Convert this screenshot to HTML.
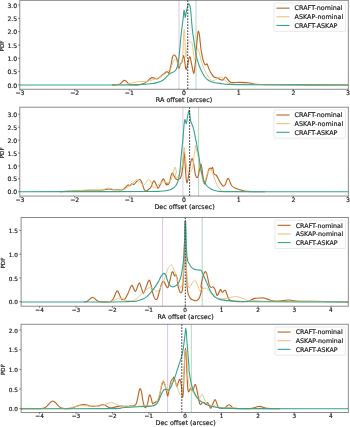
<!DOCTYPE html>
<html><head><meta charset="utf-8"><title>PDF offsets</title>
<style>html,body{margin:0;padding:0;background:#fff}svg{display:block}text{stroke:#1a1a1a;stroke-width:.18px}</style></head>
<body>
<svg width="350" height="427" viewBox="0 0 350 427" font-family="'DejaVu Sans','Liberation Sans',sans-serif" fill="#1a1a1a">
<rect width="350" height="427" fill="#fff"/>
<g>
<clipPath id="c0"><rect x="19.80" y="0.35" width="328.50" height="88.90"/></clipPath>
<g clip-path="url(#c0)" fill="none" stroke-linejoin="round" stroke-linecap="butt">
<line x1="179.00" y1="0.35" x2="179.00" y2="89.25" stroke="#d9c3e0" stroke-width="0.90"/>
<line x1="196.00" y1="0.35" x2="196.00" y2="89.25" stroke="#a9d6b6" stroke-width="0.90"/>
<path d="M112.00,84.90 C112.83,84.88 116.03,84.83 117.00,84.80 C117.97,84.77 117.53,84.76 117.80,84.73 C118.07,84.69 118.33,84.65 118.60,84.57 C118.87,84.50 119.13,84.41 119.40,84.29 C119.67,84.16 119.93,84.01 120.20,83.82 C120.47,83.64 120.73,83.41 121.00,83.16 C121.27,82.91 121.53,82.62 121.80,82.34 C122.07,82.06 122.33,81.74 122.60,81.48 C122.87,81.22 123.13,80.95 123.40,80.77 C123.67,80.58 123.93,80.44 124.20,80.38 C124.47,80.33 124.73,80.35 125.00,80.44 C125.27,80.53 125.53,80.71 125.80,80.92 C126.07,81.13 126.33,81.42 126.60,81.69 C126.87,81.96 127.13,82.28 127.40,82.55 C127.67,82.83 127.93,83.11 128.20,83.34 C128.47,83.58 128.73,83.79 129.00,83.96 C129.27,84.13 129.53,84.26 129.80,84.37 C130.07,84.48 130.33,84.56 130.60,84.62 C130.87,84.68 130.67,84.71 131.40,84.75 C132.13,84.79 133.57,84.88 135.00,84.85 C136.43,84.82 138.50,84.82 140.00,84.60 C141.50,84.38 142.67,84.17 144.00,83.50 C145.33,82.83 146.67,81.58 148.00,80.60 C149.33,79.62 150.50,77.87 152.00,77.60 C153.50,77.33 155.67,79.10 157.00,79.00 C158.33,78.90 159.10,77.67 160.00,77.00 C160.90,76.33 161.23,75.90 162.40,75.00 C163.57,74.10 165.90,71.93 167.00,71.60 C168.10,71.27 168.33,74.10 169.00,73.00 C169.67,71.90 170.40,67.70 171.00,65.00 C171.60,62.30 172.05,58.47 172.60,56.80 C173.15,55.13 173.68,54.88 174.30,55.00 C174.92,55.12 175.70,56.10 176.30,57.50 C176.90,58.90 177.45,61.53 177.90,63.40 C178.35,65.27 178.55,68.67 179.00,68.70 C179.45,68.73 180.13,64.62 180.60,63.60 C181.07,62.58 181.30,63.95 181.80,62.60 C182.30,61.25 183.08,55.43 183.60,55.50 C184.12,55.57 184.49,60.68 184.90,63.00 C185.31,65.32 185.60,69.07 186.05,69.40 C186.50,69.73 186.99,67.15 187.60,65.00 C188.21,62.85 189.03,56.67 189.70,56.50 C190.37,56.33 190.93,61.20 191.60,64.00 C192.27,66.80 193.13,72.97 193.70,73.30 C194.27,73.63 194.65,68.55 195.00,66.00 C195.35,63.45 195.52,61.43 195.80,58.00 C196.08,54.57 196.40,49.23 196.70,45.40 C197.00,41.57 197.30,37.37 197.60,35.00 C197.90,32.63 198.17,31.02 198.50,31.20 C198.83,31.38 199.25,33.60 199.60,36.10 C199.95,38.60 200.27,43.35 200.60,46.20 C200.93,49.05 201.18,50.87 201.60,53.20 C202.02,55.53 202.53,58.27 203.10,60.20 C203.67,62.13 204.35,64.17 205.00,64.80 C205.65,65.43 206.33,63.30 207.00,64.00 C207.67,64.70 208.33,67.50 209.00,69.00 C209.67,70.50 210.17,71.67 211.00,73.00 C211.83,74.33 212.83,76.17 214.00,77.00 C215.17,77.83 217.00,77.60 218.00,78.00 C219.00,78.40 219.17,79.07 220.00,79.40 C220.83,79.73 222.07,80.40 223.00,80.00 C223.93,79.60 224.60,76.83 225.60,77.00 C226.60,77.17 227.93,80.07 229.00,81.00 C230.07,81.93 230.17,82.37 232.00,82.60 C233.83,82.83 237.00,82.33 240.00,82.40 C243.00,82.47 247.33,82.70 250.00,83.00 C252.67,83.30 251.00,83.90 256.00,84.20 C261.00,84.50 264.67,84.67 280.00,84.80 C295.33,84.93 336.67,84.97 348.00,85.00" stroke="#ba6421" stroke-width="1.12"/>
<path d="M116.00,85.00 C117.00,84.97 120.33,84.92 122.00,84.80 C123.67,84.68 124.67,84.55 126.00,84.30 C127.33,84.05 128.50,83.65 130.00,83.30 C131.50,82.95 133.33,82.52 135.00,82.20 C136.67,81.88 138.17,81.50 140.00,81.40 C141.83,81.30 144.00,81.83 146.00,81.60 C148.00,81.37 150.00,80.60 152.00,80.00 C154.00,79.40 156.00,78.92 158.00,78.00 C160.00,77.08 162.45,75.57 164.00,74.50 C165.55,73.43 166.17,72.60 167.30,71.60 C168.43,70.60 169.82,70.18 170.80,68.50 C171.78,66.82 172.45,63.00 173.20,61.50 C173.95,60.00 174.68,59.50 175.30,59.50 C175.92,59.50 176.28,60.33 176.90,61.50 C177.52,62.67 178.28,66.18 179.00,66.50 C179.72,66.82 180.63,64.90 181.20,63.40 C181.77,61.90 182.07,60.07 182.40,57.50 C182.73,54.93 183.02,51.25 183.20,48.00 C183.38,44.75 183.39,40.75 183.50,38.00 C183.61,35.25 183.72,32.93 183.85,31.50 C183.97,30.07 184.12,29.40 184.25,29.40 C184.38,29.40 184.53,29.73 184.65,31.50 C184.77,33.27 184.85,36.58 184.95,40.00 C185.05,43.42 185.07,49.08 185.25,52.00 C185.43,54.92 185.72,57.83 186.00,57.50 C186.28,57.17 186.63,52.33 186.90,50.00 C187.17,47.67 187.32,44.87 187.60,43.50 C187.88,42.13 188.12,42.08 188.60,41.80 C189.08,41.52 189.97,41.67 190.50,41.80 C191.03,41.93 191.45,41.90 191.80,42.60 C192.15,43.30 192.32,44.10 192.60,46.00 C192.88,47.90 193.15,51.70 193.50,54.00 C193.85,56.30 194.28,59.72 194.70,59.80 C195.12,59.88 195.57,56.33 196.00,54.50 C196.43,52.67 196.83,49.30 197.30,48.80 C197.77,48.30 198.33,50.27 198.80,51.50 C199.27,52.73 199.63,54.37 200.10,56.20 C200.57,58.03 200.82,60.13 201.60,62.50 C202.38,64.87 203.73,68.15 204.80,70.40 C205.87,72.65 206.97,74.37 208.00,76.00 C209.03,77.63 210.00,79.43 211.00,80.20 C212.00,80.97 213.00,80.87 214.00,80.60 C215.00,80.33 215.95,79.22 217.00,78.60 C218.05,77.98 219.30,76.97 220.30,76.90 C221.30,76.83 222.05,77.45 223.00,78.20 C223.95,78.95 224.83,80.50 226.00,81.40 C227.17,82.30 228.67,83.10 230.00,83.60 C231.33,84.10 225.67,84.20 234.00,84.40 C242.33,84.60 261.00,84.70 280.00,84.80 C299.00,84.90 336.67,84.97 348.00,85.00" stroke="#e5c47f" stroke-width="0.92"/>
<path d="M20.00,85.00 C36.67,85.00 100.00,85.08 120.00,85.00 C140.00,84.92 135.00,84.70 140.00,84.50 C145.00,84.30 147.17,84.12 150.00,83.80 C152.83,83.48 155.00,83.10 157.00,82.60 C159.00,82.10 160.67,81.48 162.00,80.80 C163.33,80.12 164.08,79.33 165.00,78.50 C165.92,77.67 166.67,76.62 167.50,75.80 C168.33,74.98 169.08,74.20 170.00,73.60 C170.92,73.00 172.08,72.72 173.00,72.20 C173.92,71.68 174.80,71.37 175.50,70.50 C176.20,69.63 176.73,68.42 177.20,67.00 C177.67,65.58 177.97,64.00 178.30,62.00 C178.63,60.00 178.92,57.58 179.20,55.00 C179.48,52.42 179.73,49.33 180.00,46.50 C180.27,43.67 180.58,40.25 180.80,38.00 C181.02,35.75 181.10,34.75 181.30,33.00 C181.50,31.25 181.75,29.42 182.00,27.50 C182.25,25.58 182.55,23.50 182.80,21.50 C183.05,19.50 183.31,17.33 183.50,15.50 C183.69,13.67 183.78,11.08 183.95,10.50 C184.12,9.92 184.29,10.83 184.50,12.00 C184.71,13.17 184.92,17.40 185.20,17.50 C185.48,17.60 185.88,14.08 186.20,12.60 C186.52,11.12 186.75,10.03 187.10,8.60 C187.45,7.17 187.87,4.58 188.30,4.00 C188.73,3.42 189.32,4.18 189.70,5.10 C190.08,6.02 190.30,7.02 190.60,9.50 C190.90,11.98 191.18,16.42 191.50,20.00 C191.82,23.58 192.10,27.55 192.50,31.00 C192.90,34.45 193.43,37.52 193.90,40.70 C194.37,43.88 194.83,47.28 195.30,50.10 C195.77,52.92 196.20,55.45 196.70,57.60 C197.20,59.75 197.73,61.27 198.30,63.00 C198.87,64.73 199.42,66.38 200.10,68.00 C200.78,69.62 201.58,71.20 202.40,72.70 C203.22,74.20 204.07,75.78 205.00,77.00 C205.93,78.22 206.83,79.17 208.00,80.00 C209.17,80.83 210.00,81.43 212.00,82.00 C214.00,82.57 217.00,83.00 220.00,83.40 C223.00,83.80 223.33,84.17 230.00,84.40 C236.67,84.63 240.33,84.70 260.00,84.80 C279.67,84.90 333.33,84.97 348.00,85.00" stroke="#35a38f" stroke-width="1.10"/>
<line x1="187.75" y1="0.35" x2="187.75" y2="89.25" stroke="#33363f" stroke-width="1.0" stroke-dasharray="1.65,1.35"/>
</g>
<rect x="19.80" y="0.35" width="328.50" height="88.90" fill="none" stroke="#000" stroke-opacity="0.5" stroke-width="0.9"/>
<line x1="19.99" y1="89.25" x2="19.99" y2="90.95" stroke="#000" stroke-opacity="0.75" stroke-width="0.6"/>
<text x="19.99" y="94.95" font-size="6.15" text-anchor="middle">−3</text>
<line x1="74.66" y1="89.25" x2="74.66" y2="90.95" stroke="#000" stroke-opacity="0.75" stroke-width="0.6"/>
<text x="74.66" y="94.95" font-size="6.15" text-anchor="middle">−2</text>
<line x1="129.33" y1="89.25" x2="129.33" y2="90.95" stroke="#000" stroke-opacity="0.75" stroke-width="0.6"/>
<text x="129.33" y="94.95" font-size="6.15" text-anchor="middle">−1</text>
<line x1="184.00" y1="89.25" x2="184.00" y2="90.95" stroke="#000" stroke-opacity="0.75" stroke-width="0.6"/>
<text x="184.00" y="94.95" font-size="6.15" text-anchor="middle">0</text>
<line x1="238.67" y1="89.25" x2="238.67" y2="90.95" stroke="#000" stroke-opacity="0.75" stroke-width="0.6"/>
<text x="238.67" y="94.95" font-size="6.15" text-anchor="middle">1</text>
<line x1="293.34" y1="89.25" x2="293.34" y2="90.95" stroke="#000" stroke-opacity="0.75" stroke-width="0.6"/>
<text x="293.34" y="94.95" font-size="6.15" text-anchor="middle">2</text>
<line x1="348.01" y1="89.25" x2="348.01" y2="90.95" stroke="#000" stroke-opacity="0.75" stroke-width="0.6"/>
<text x="348.01" y="94.95" font-size="6.15" text-anchor="middle">3</text>
<line x1="18.10" y1="84.95" x2="19.80" y2="84.95" stroke="#000" stroke-opacity="0.75" stroke-width="0.6"/>
<text x="17.20" y="87.55" font-size="6.15" text-anchor="end">0.0</text>
<line x1="18.10" y1="71.64" x2="19.80" y2="71.64" stroke="#000" stroke-opacity="0.75" stroke-width="0.6"/>
<text x="17.20" y="74.23" font-size="6.15" text-anchor="end">0.5</text>
<line x1="18.10" y1="58.32" x2="19.80" y2="58.32" stroke="#000" stroke-opacity="0.75" stroke-width="0.6"/>
<text x="17.20" y="60.92" font-size="6.15" text-anchor="end">1.0</text>
<line x1="18.10" y1="45.01" x2="19.80" y2="45.01" stroke="#000" stroke-opacity="0.75" stroke-width="0.6"/>
<text x="17.20" y="47.61" font-size="6.15" text-anchor="end">1.5</text>
<line x1="18.10" y1="31.69" x2="19.80" y2="31.69" stroke="#000" stroke-opacity="0.75" stroke-width="0.6"/>
<text x="17.20" y="34.29" font-size="6.15" text-anchor="end">2.0</text>
<line x1="18.10" y1="18.38" x2="19.80" y2="18.38" stroke="#000" stroke-opacity="0.75" stroke-width="0.6"/>
<text x="17.20" y="20.98" font-size="6.15" text-anchor="end">2.5</text>
<line x1="18.10" y1="5.06" x2="19.80" y2="5.06" stroke="#000" stroke-opacity="0.75" stroke-width="0.6"/>
<text x="17.20" y="7.66" font-size="6.15" text-anchor="end">3.0</text>
<text x="184.05" y="102.00" font-size="6.4" text-anchor="middle">RA offset (arcsec)</text>
<text transform="translate(4.20,46.00) rotate(-90)" font-size="5.6" text-anchor="middle">PDF</text>
<rect x="274.00" y="3.05" width="71.40" height="28.30" rx="1" fill="#fff" fill-opacity="0.8" stroke="#d4d4d4" stroke-width="0.5"/>
<line x1="276.40" y1="8.15" x2="289.60" y2="8.15" stroke="#ba6421" stroke-width="1.1"/>
<text x="294.60" y="10.45" font-size="6.40">CRAFT-nominal</text>
<line x1="276.40" y1="16.80" x2="289.60" y2="16.80" stroke="#e5c47f" stroke-width="1.1"/>
<text x="294.60" y="19.10" font-size="6.40">ASKAP-nominal</text>
<line x1="276.40" y1="25.45" x2="289.60" y2="25.45" stroke="#35a38f" stroke-width="1.1"/>
<text x="294.60" y="27.75" font-size="6.40">CRAFT-ASKAP</text>
</g>
<g>
<clipPath id="c1"><rect x="19.80" y="107.20" width="328.50" height="88.85"/></clipPath>
<g clip-path="url(#c1)" fill="none" stroke-linejoin="round" stroke-linecap="butt">
<line x1="182.90" y1="107.20" x2="182.90" y2="196.05" stroke="#d9c3e0" stroke-width="0.90"/>
<line x1="198.60" y1="107.20" x2="198.60" y2="196.05" stroke="#a9d6b6" stroke-width="0.90"/>
<path d="M60.00,191.70 C61.00,191.65 62.67,191.58 66.00,191.40 C69.33,191.22 76.00,190.80 80.00,190.60 C84.00,190.40 86.67,190.23 90.00,190.20 C93.33,190.17 97.67,190.47 100.00,190.40 C102.33,190.33 102.50,190.03 104.00,189.80 C105.50,189.57 107.50,189.03 109.00,189.00 C110.50,188.97 111.83,189.50 113.00,189.60 C114.17,189.70 114.50,189.53 116.00,189.60 C117.50,189.67 120.50,190.27 122.00,190.00 C123.50,189.73 124.00,188.83 125.00,188.00 C126.00,187.17 127.17,185.40 128.00,185.00 C128.83,184.60 129.33,185.83 130.00,185.60 C130.67,185.37 131.33,183.80 132.00,183.60 C132.67,183.40 133.17,184.83 134.00,184.40 C134.83,183.97 136.00,181.80 137.00,181.00 C138.00,180.20 139.17,179.27 140.00,179.60 C140.83,179.93 141.33,181.43 142.00,183.00 C142.67,184.57 143.33,187.67 144.00,189.00 C144.67,190.33 145.17,191.00 146.00,191.00 C146.83,191.00 148.17,189.67 149.00,189.00 C149.83,188.33 150.33,188.17 151.00,187.00 C151.67,185.83 152.43,183.00 153.00,182.00 C153.57,181.00 153.83,180.50 154.40,181.00 C154.97,181.50 155.80,183.77 156.40,185.00 C157.00,186.23 157.40,188.40 158.00,188.40 C158.60,188.40 159.27,186.40 160.00,185.00 C160.73,183.60 161.80,181.00 162.40,180.00 C163.00,179.00 163.17,178.67 163.60,179.00 C164.03,179.33 164.53,181.00 165.00,182.00 C165.47,183.00 166.11,184.82 166.40,185.00 C166.69,185.18 166.50,183.11 166.75,183.09 C167.01,183.06 167.44,185.04 167.92,184.84 C168.41,184.65 169.19,183.38 169.68,181.92 C170.17,180.46 170.42,177.53 170.85,176.07 C171.28,174.61 171.76,173.24 172.25,173.15 C172.74,173.05 173.23,174.61 173.77,175.49 C174.32,176.36 174.94,177.73 175.53,178.41 C176.11,179.09 176.70,179.48 177.28,179.58 C177.87,179.68 178.45,179.38 179.04,178.99 C179.62,178.60 180.20,178.90 180.79,177.24 C181.37,175.58 182.10,172.37 182.54,169.05 C182.99,165.74 183.23,160.28 183.48,157.36 C183.73,154.43 183.87,151.51 184.06,151.51 C184.26,151.51 184.43,154.63 184.65,157.36 C184.86,160.09 185.12,164.57 185.35,167.88 C185.58,171.20 185.78,174.71 186.05,177.24 C186.33,179.77 186.60,183.09 186.99,183.09 C187.38,183.09 187.87,180.16 188.39,177.24 C188.92,174.32 189.60,168.57 190.15,165.54 C190.69,162.52 191.22,160.09 191.67,159.11 C192.12,158.14 192.45,158.62 192.84,159.70 C193.23,160.77 193.62,163.20 194.01,165.54 C194.40,167.88 194.75,171.78 195.18,173.73 C195.60,175.68 196.11,176.75 196.58,177.24 C197.05,177.73 197.55,177.63 197.98,176.65 C198.41,175.68 198.70,173.44 199.15,171.39 C199.60,169.35 200.22,164.96 200.67,164.37 C201.12,163.79 201.45,165.74 201.84,167.88 C202.23,170.03 202.75,175.22 203.01,177.24 C203.27,179.26 203.14,178.87 203.40,180.00 C203.66,181.13 204.07,184.33 204.60,184.00 C205.13,183.67 205.93,180.33 206.60,178.00 C207.27,175.67 208.03,171.67 208.60,170.00 C209.17,168.33 209.53,168.17 210.00,168.00 C210.47,167.83 210.97,169.07 211.40,169.00 C211.83,168.93 212.17,166.77 212.60,167.60 C213.03,168.43 213.43,172.77 214.00,174.00 C214.57,175.23 215.33,174.33 216.00,175.00 C216.67,175.67 217.33,176.83 218.00,178.00 C218.67,179.17 219.17,180.67 220.00,182.00 C220.83,183.33 222.17,185.50 223.00,186.00 C223.83,186.50 224.33,186.00 225.00,185.00 C225.67,184.00 226.43,181.10 227.00,180.00 C227.57,178.90 227.90,178.07 228.40,178.40 C228.90,178.73 229.40,180.73 230.00,182.00 C230.60,183.27 231.17,185.00 232.00,186.00 C232.83,187.00 233.50,187.33 235.00,188.00 C236.50,188.67 239.00,189.43 241.00,190.00 C243.00,190.57 243.00,191.13 247.00,191.40 C251.00,191.67 262.00,191.57 265.00,191.60" stroke="#ba6421" stroke-width="1.12"/>
<path d="M60.00,191.70 C61.00,191.65 62.67,191.58 66.00,191.40 C69.33,191.22 76.00,190.83 80.00,190.60 C84.00,190.37 86.67,190.07 90.00,190.00 C93.33,189.93 97.67,190.30 100.00,190.20 C102.33,190.10 102.67,189.77 104.00,189.40 C105.33,189.03 106.67,188.07 108.00,188.00 C109.33,187.93 111.00,188.73 112.00,189.00 C113.00,189.27 112.33,189.40 114.00,189.60 C115.67,189.80 119.67,190.63 122.00,190.20 C124.33,189.77 126.33,188.03 128.00,187.00 C129.67,185.97 130.83,185.00 132.00,184.00 C133.17,183.00 134.17,181.67 135.00,181.00 C135.83,180.33 136.17,179.83 137.00,180.00 C137.83,180.17 139.00,181.17 140.00,182.00 C141.00,182.83 142.17,184.67 143.00,185.00 C143.83,185.33 144.33,184.67 145.00,184.00 C145.67,183.33 146.33,181.73 147.00,181.00 C147.67,180.27 148.33,179.43 149.00,179.60 C149.67,179.77 150.33,180.77 151.00,182.00 C151.67,183.23 152.33,186.07 153.00,187.00 C153.67,187.93 154.17,187.93 155.00,187.60 C155.83,187.27 157.00,185.77 158.00,185.00 C159.00,184.23 160.00,183.50 161.00,183.00 C162.00,182.50 163.00,182.00 164.00,182.00 C165.00,182.00 166.00,183.17 167.00,183.00 C168.00,182.83 169.17,182.00 170.00,181.00 C170.83,180.00 171.33,178.83 172.00,177.00 C172.67,175.17 173.50,171.67 174.00,170.00 C174.50,168.33 174.60,166.67 175.00,167.00 C175.40,167.33 176.31,170.68 176.40,172.00 C176.49,173.32 175.48,173.83 175.53,174.90 C175.58,175.97 176.11,178.41 176.70,178.41 C177.28,178.41 178.26,176.46 179.04,174.90 C179.81,173.34 180.69,171.59 181.37,169.05 C182.06,166.52 182.72,162.81 183.13,159.70 C183.54,156.58 183.65,152.39 183.83,150.34 C184.01,148.29 184.04,147.42 184.18,147.42 C184.32,147.42 184.38,148.29 184.65,150.34 C184.92,152.39 185.39,156.19 185.82,159.70 C186.25,163.20 186.70,169.15 187.22,171.39 C187.75,173.63 188.39,173.15 188.98,173.15 C189.56,173.15 190.15,172.27 190.73,171.39 C191.32,170.51 192.00,169.83 192.49,167.88 C192.97,165.93 193.27,162.42 193.65,159.70 C194.04,156.97 194.49,153.95 194.82,151.51 C195.16,149.07 195.35,145.27 195.64,145.08 C195.94,144.88 196.13,148.29 196.58,150.34 C197.03,152.39 197.75,154.43 198.33,157.36 C198.92,160.28 199.50,164.96 200.09,167.88 C200.67,170.81 201.36,172.55 201.84,174.90 C202.33,177.25 202.47,180.98 203.00,182.00 C203.53,183.02 204.17,182.67 205.00,181.00 C205.83,179.33 207.00,173.83 208.00,172.00 C209.00,170.17 210.00,169.17 211.00,170.00 C212.00,170.83 213.00,174.50 214.00,177.00 C215.00,179.50 215.83,182.83 217.00,185.00 C218.17,187.17 219.67,188.93 221.00,190.00 C222.33,191.07 217.67,191.13 225.00,191.40 C232.33,191.67 258.33,191.57 265.00,191.60" stroke="#e5c47f" stroke-width="0.92"/>
<path d="M20.00,191.70 C35.00,191.68 88.33,191.63 110.00,191.60 C131.67,191.57 141.67,191.55 150.00,191.50 C158.33,191.45 157.33,191.42 160.00,191.30 C162.67,191.18 164.33,191.05 166.00,190.80 C167.67,190.55 168.83,190.23 170.00,189.80 C171.17,189.37 172.08,188.83 173.00,188.20 C173.92,187.57 174.75,186.95 175.50,186.00 C176.25,185.05 176.92,184.00 177.50,182.50 C178.08,181.00 178.55,179.42 179.00,177.00 C179.45,174.58 179.82,171.67 180.20,168.00 C180.58,164.33 180.97,158.67 181.30,155.00 C181.63,151.33 181.93,148.58 182.20,146.00 C182.47,143.42 182.67,142.05 182.90,139.50 C183.13,136.95 183.37,133.53 183.60,130.70 C183.83,127.87 184.05,124.35 184.30,122.50 C184.55,120.65 184.80,119.40 185.10,119.60 C185.40,119.80 185.78,123.60 186.10,123.70 C186.42,123.80 186.72,121.57 187.00,120.20 C187.28,118.83 187.47,117.15 187.80,115.50 C188.13,113.85 188.67,110.48 189.00,110.30 C189.33,110.12 189.55,112.75 189.80,114.40 C190.05,116.05 190.18,118.65 190.50,120.20 C190.82,121.75 191.27,122.53 191.70,123.70 C192.13,124.87 192.63,125.63 193.10,127.20 C193.57,128.77 194.08,131.15 194.50,133.10 C194.92,135.05 195.22,136.95 195.60,138.90 C195.98,140.85 196.45,142.85 196.80,144.80 C197.15,146.75 197.38,148.90 197.70,150.60 C198.02,152.30 198.32,152.77 198.70,155.00 C199.08,157.23 199.55,161.17 200.00,164.00 C200.45,166.83 200.73,169.17 201.40,172.00 C202.07,174.83 203.07,178.67 204.00,181.00 C204.93,183.33 205.83,184.67 207.00,186.00 C208.17,187.33 209.33,188.17 211.00,189.00 C212.67,189.83 214.67,190.57 217.00,191.00 C219.33,191.43 217.00,191.48 225.00,191.60 C233.00,191.72 244.50,191.68 265.00,191.70 C285.50,191.72 334.17,191.70 348.00,191.70" stroke="#35a38f" stroke-width="1.10"/>
<line x1="189.60" y1="107.20" x2="189.60" y2="196.05" stroke="#33363f" stroke-width="1.0" stroke-dasharray="1.65,1.35"/>
</g>
<rect x="19.80" y="107.20" width="328.50" height="88.85" fill="none" stroke="#000" stroke-opacity="0.5" stroke-width="0.9"/>
<line x1="19.99" y1="196.05" x2="19.99" y2="197.75" stroke="#000" stroke-opacity="0.75" stroke-width="0.6"/>
<text x="19.99" y="201.75" font-size="6.15" text-anchor="middle">−3</text>
<line x1="74.66" y1="196.05" x2="74.66" y2="197.75" stroke="#000" stroke-opacity="0.75" stroke-width="0.6"/>
<text x="74.66" y="201.75" font-size="6.15" text-anchor="middle">−2</text>
<line x1="129.33" y1="196.05" x2="129.33" y2="197.75" stroke="#000" stroke-opacity="0.75" stroke-width="0.6"/>
<text x="129.33" y="201.75" font-size="6.15" text-anchor="middle">−1</text>
<line x1="184.00" y1="196.05" x2="184.00" y2="197.75" stroke="#000" stroke-opacity="0.75" stroke-width="0.6"/>
<text x="184.00" y="201.75" font-size="6.15" text-anchor="middle">0</text>
<line x1="238.67" y1="196.05" x2="238.67" y2="197.75" stroke="#000" stroke-opacity="0.75" stroke-width="0.6"/>
<text x="238.67" y="201.75" font-size="6.15" text-anchor="middle">1</text>
<line x1="293.34" y1="196.05" x2="293.34" y2="197.75" stroke="#000" stroke-opacity="0.75" stroke-width="0.6"/>
<text x="293.34" y="201.75" font-size="6.15" text-anchor="middle">2</text>
<line x1="348.01" y1="196.05" x2="348.01" y2="197.75" stroke="#000" stroke-opacity="0.75" stroke-width="0.6"/>
<text x="348.01" y="201.75" font-size="6.15" text-anchor="middle">3</text>
<line x1="18.10" y1="191.75" x2="19.80" y2="191.75" stroke="#000" stroke-opacity="0.75" stroke-width="0.6"/>
<text x="17.20" y="194.35" font-size="6.15" text-anchor="end">0.0</text>
<line x1="18.10" y1="178.84" x2="19.80" y2="178.84" stroke="#000" stroke-opacity="0.75" stroke-width="0.6"/>
<text x="17.20" y="181.44" font-size="6.15" text-anchor="end">0.5</text>
<line x1="18.10" y1="165.93" x2="19.80" y2="165.93" stroke="#000" stroke-opacity="0.75" stroke-width="0.6"/>
<text x="17.20" y="168.53" font-size="6.15" text-anchor="end">1.0</text>
<line x1="18.10" y1="153.02" x2="19.80" y2="153.02" stroke="#000" stroke-opacity="0.75" stroke-width="0.6"/>
<text x="17.20" y="155.62" font-size="6.15" text-anchor="end">1.5</text>
<line x1="18.10" y1="140.11" x2="19.80" y2="140.11" stroke="#000" stroke-opacity="0.75" stroke-width="0.6"/>
<text x="17.20" y="142.71" font-size="6.15" text-anchor="end">2.0</text>
<line x1="18.10" y1="127.20" x2="19.80" y2="127.20" stroke="#000" stroke-opacity="0.75" stroke-width="0.6"/>
<text x="17.20" y="129.80" font-size="6.15" text-anchor="end">2.5</text>
<line x1="18.10" y1="114.29" x2="19.80" y2="114.29" stroke="#000" stroke-opacity="0.75" stroke-width="0.6"/>
<text x="17.20" y="116.89" font-size="6.15" text-anchor="end">3.0</text>
<text x="184.55" y="208.80" font-size="6.4" text-anchor="middle">Dec offset (arcsec)</text>
<text transform="translate(4.20,152.82) rotate(-90)" font-size="5.6" text-anchor="middle">PDF</text>
<rect x="274.00" y="109.90" width="71.40" height="28.30" rx="1" fill="#fff" fill-opacity="0.8" stroke="#d4d4d4" stroke-width="0.5"/>
<line x1="276.40" y1="115.00" x2="289.60" y2="115.00" stroke="#ba6421" stroke-width="1.1"/>
<text x="294.60" y="117.30" font-size="6.40">CRAFT-nominal</text>
<line x1="276.40" y1="123.65" x2="289.60" y2="123.65" stroke="#e5c47f" stroke-width="1.1"/>
<text x="294.60" y="125.95" font-size="6.40">ASKAP-nominal</text>
<line x1="276.40" y1="132.30" x2="289.60" y2="132.30" stroke="#35a38f" stroke-width="1.1"/>
<text x="294.60" y="134.60" font-size="6.40">CRAFT-ASKAP</text>
</g>
<g>
<clipPath id="c2"><rect x="21.10" y="217.50" width="327.20" height="88.70"/></clipPath>
<g clip-path="url(#c2)" fill="none" stroke-linejoin="round" stroke-linecap="butt">
<line x1="162.60" y1="217.50" x2="162.60" y2="306.20" stroke="#ceb1db" stroke-width="0.75"/>
<line x1="202.20" y1="217.50" x2="202.20" y2="306.20" stroke="#94cca8" stroke-width="0.75"/>
<path d="M83.90,301.90 C84.03,301.89 84.43,301.87 84.70,301.84 C84.97,301.81 85.23,301.78 85.50,301.73 C85.77,301.67 86.03,301.61 86.30,301.52 C86.57,301.44 86.83,301.34 87.10,301.21 C87.37,301.07 87.63,300.92 87.90,300.74 C88.17,300.56 88.43,300.35 88.70,300.13 C88.97,299.91 89.23,299.65 89.50,299.41 C89.77,299.16 90.03,298.90 90.30,298.66 C90.57,298.43 90.83,298.19 91.10,298.01 C91.37,297.83 91.63,297.67 91.90,297.58 C92.17,297.49 92.43,297.44 92.70,297.45 C92.97,297.47 93.23,297.54 93.50,297.66 C93.77,297.78 94.03,297.96 94.30,298.16 C94.57,298.36 94.83,298.61 95.10,298.85 C95.37,299.09 95.63,299.35 95.90,299.59 C96.17,299.84 96.43,300.08 96.70,300.29 C96.97,300.51 97.23,300.70 97.50,300.87 C97.77,301.04 98.03,301.18 98.30,301.30 C98.57,301.42 98.83,301.51 99.10,301.58 C99.37,301.66 99.63,301.71 99.90,301.76 C100.17,301.81 100.18,301.83 100.70,301.86 C101.22,301.89 101.45,301.93 103.00,301.92 C104.55,301.91 108.57,301.95 110.00,301.80 C111.43,301.65 110.93,301.73 111.60,301.00 C112.27,300.27 113.27,298.83 114.00,297.40 C114.73,295.97 115.40,293.47 116.00,292.40 C116.60,291.33 117.03,290.67 117.60,291.00 C118.17,291.33 118.83,293.17 119.40,294.40 C119.97,295.63 120.40,297.50 121.00,298.40 C121.60,299.30 122.33,299.73 123.00,299.80 C123.67,299.87 124.17,299.87 125.00,298.80 C125.83,297.73 127.10,295.30 128.00,293.40 C128.90,291.50 129.73,288.73 130.40,287.40 C131.07,286.07 131.47,285.23 132.00,285.40 C132.53,285.57 133.00,287.40 133.60,288.40 C134.20,289.40 134.93,291.73 135.60,291.40 C136.27,291.07 136.97,287.83 137.60,286.40 C138.23,284.97 138.80,282.63 139.40,282.80 C140.00,282.97 140.53,285.63 141.20,287.40 C141.87,289.17 142.67,293.23 143.40,293.40 C144.13,293.57 144.83,290.30 145.60,288.40 C146.37,286.50 147.33,283.33 148.00,282.00 C148.67,280.67 149.03,279.67 149.60,280.40 C150.17,281.13 150.77,283.90 151.40,286.40 C152.03,288.90 152.73,293.23 153.40,295.40 C154.07,297.57 154.73,298.90 155.40,299.40 C156.07,299.90 156.73,299.73 157.40,298.40 C158.07,297.07 158.73,293.73 159.40,291.40 C160.07,289.07 160.80,286.07 161.40,284.40 C162.00,282.73 162.50,281.73 163.00,281.40 C163.50,281.07 163.83,281.57 164.40,282.40 C164.97,283.23 165.80,285.57 166.40,286.40 C167.00,287.23 167.40,288.40 168.00,287.40 C168.60,286.40 169.40,282.73 170.00,280.40 C170.60,278.07 171.10,274.80 171.60,273.40 C172.10,272.00 172.50,271.57 173.00,272.00 C173.50,272.43 174.10,275.53 174.60,276.00 C175.10,276.47 175.50,274.07 176.00,274.80 C176.50,275.53 177.39,279.43 177.60,280.40 C177.81,281.37 177.14,279.42 177.28,280.62 C177.42,281.83 177.96,285.69 178.45,287.64 C178.94,289.59 179.62,291.64 180.20,292.32 C180.79,293.00 181.53,292.71 181.96,291.73 C182.39,290.76 182.49,290.08 182.78,286.47 C183.07,282.86 183.44,276.72 183.71,270.10 C183.99,263.47 184.22,254.31 184.42,246.70 C184.61,239.10 184.73,228.38 184.88,224.48 C185.04,220.58 185.19,219.61 185.35,223.31 C185.51,227.02 185.60,237.93 185.82,246.70 C186.03,255.48 186.40,269.12 186.64,275.94 C186.87,282.77 186.93,284.52 187.22,287.64 C187.51,290.76 187.81,292.81 188.39,294.66 C188.98,296.51 189.85,297.82 190.73,298.75 C191.61,299.69 192.78,299.94 193.65,300.27 C194.53,300.60 195.21,300.90 195.99,300.74 C196.77,300.58 197.65,300.15 198.33,299.34 C199.02,298.52 199.50,297.78 200.09,295.83 C200.67,293.88 201.69,289.21 201.84,287.64 C201.99,286.07 200.81,288.27 201.00,286.40 C201.19,284.53 202.33,278.83 203.00,276.40 C203.67,273.97 204.40,272.30 205.00,271.80 C205.60,271.30 206.10,272.13 206.60,273.40 C207.10,274.67 207.53,277.40 208.00,279.40 C208.47,281.40 208.90,284.07 209.40,285.40 C209.90,286.73 210.40,287.17 211.00,287.40 C211.60,287.63 212.33,286.47 213.00,286.80 C213.67,287.13 214.33,287.97 215.00,289.40 C215.67,290.83 216.33,294.90 217.00,295.40 C217.67,295.90 218.40,293.40 219.00,292.40 C219.60,291.40 220.03,289.40 220.60,289.40 C221.17,289.40 221.83,292.17 222.40,292.40 C222.97,292.63 223.50,291.13 224.00,290.80 C224.50,290.47 224.90,289.80 225.40,290.40 C225.90,291.00 226.40,292.90 227.00,294.40 C227.60,295.90 228.17,298.30 229.00,299.40 C229.83,300.50 230.33,300.63 232.00,301.00 C233.67,301.37 236.50,301.53 239.00,301.60 C241.50,301.67 245.00,301.67 247.00,301.40 C249.00,301.13 249.67,300.50 251.00,300.00 C252.33,299.50 253.50,298.73 255.00,298.40 C256.50,298.07 258.50,298.07 260.00,298.00 C261.50,297.93 262.67,297.77 264.00,298.00 C265.33,298.23 266.50,298.93 268.00,299.40 C269.50,299.87 271.17,300.53 273.00,300.80 C274.83,301.07 277.00,301.07 279.00,301.00 C281.00,300.93 283.33,300.57 285.00,300.40 C286.67,300.23 287.67,299.97 289.00,300.00 C290.33,300.03 291.33,300.38 293.00,300.60 C294.67,300.82 295.33,301.17 299.00,301.30 C302.67,301.43 309.00,301.33 315.00,301.40 C321.00,301.47 329.50,301.60 335.00,301.70 C340.50,301.80 345.83,301.95 348.00,302.00" stroke="#ba6421" stroke-width="1.12"/>
<path d="M100.00,302.00 C101.67,301.90 107.33,301.83 110.00,301.40 C112.67,300.97 114.33,299.97 116.00,299.40 C117.67,298.83 118.67,298.00 120.00,298.00 C121.33,298.00 123.00,299.00 124.00,299.40 C125.00,299.80 124.67,300.17 126.00,300.40 C127.33,300.63 130.33,300.97 132.00,300.80 C133.67,300.63 134.67,300.30 136.00,299.40 C137.33,298.50 138.67,296.73 140.00,295.40 C141.33,294.07 142.67,292.57 144.00,291.40 C145.33,290.23 146.83,289.07 148.00,288.40 C149.17,287.73 150.00,287.23 151.00,287.40 C152.00,287.57 153.00,288.73 154.00,289.40 C155.00,290.07 156.00,291.57 157.00,291.40 C158.00,291.23 158.83,290.23 160.00,288.40 C161.17,286.57 162.78,283.45 164.00,280.40 C165.22,277.35 166.39,272.50 167.34,270.10 C168.29,267.70 169.00,266.88 169.68,266.00 C170.36,265.13 170.85,264.54 171.43,264.83 C172.02,265.13 172.50,266.29 173.19,267.76 C173.87,269.22 174.84,271.66 175.53,273.60 C176.21,275.55 176.70,277.50 177.28,279.45 C177.87,281.40 178.45,283.94 179.04,285.30 C179.62,286.67 180.20,288.22 180.79,287.64 C181.37,287.05 182.06,285.11 182.54,281.79 C183.03,278.48 183.40,273.60 183.71,267.76 C184.03,261.91 184.22,253.72 184.42,246.70 C184.61,239.69 184.73,229.16 184.88,225.65 C185.04,222.14 185.19,222.14 185.35,225.65 C185.51,229.16 185.60,238.91 185.82,246.70 C186.03,254.50 186.31,266.39 186.64,272.44 C186.97,278.48 187.42,280.43 187.81,282.96 C188.20,285.50 188.49,287.15 188.98,287.64 C189.46,288.13 190.05,286.86 190.73,285.89 C191.41,284.91 192.39,282.77 193.07,281.79 C193.75,280.82 194.24,279.84 194.82,280.04 C195.41,280.23 195.90,281.50 196.58,282.96 C197.26,284.42 198.24,287.35 198.92,288.81 C199.60,290.27 200.49,291.47 200.67,291.73 C200.85,292.00 199.61,290.89 200.00,290.40 C200.39,289.91 202.17,289.20 203.00,288.80 C203.83,288.40 204.17,287.90 205.00,288.00 C205.83,288.10 207.00,288.50 208.00,289.40 C209.00,290.30 209.83,292.07 211.00,293.40 C212.17,294.73 213.33,296.50 215.00,297.40 C216.67,298.30 219.00,298.63 221.00,298.80 C223.00,298.97 225.00,298.73 227.00,298.40 C229.00,298.07 231.17,297.07 233.00,296.80 C234.83,296.53 236.33,296.53 238.00,296.80 C239.67,297.07 241.33,297.73 243.00,298.40 C244.67,299.07 246.33,300.47 248.00,300.80 C249.67,301.13 251.17,300.40 253.00,300.40 C254.83,300.40 257.00,300.67 259.00,300.80 C261.00,300.93 258.17,301.10 265.00,301.20 C271.83,301.30 286.17,301.27 300.00,301.40 C313.83,301.53 340.00,301.90 348.00,302.00" stroke="#e5c47f" stroke-width="0.92"/>
<path d="M20.00,302.00 C33.33,302.00 82.00,302.07 100.00,302.00 C118.00,301.93 122.00,301.73 128.00,301.60 C134.00,301.47 133.67,301.57 136.00,301.20 C138.33,300.83 140.33,300.03 142.00,299.40 C143.67,298.77 144.67,298.40 146.00,297.40 C147.33,296.40 148.67,294.90 150.00,293.40 C151.33,291.90 152.67,290.23 154.00,288.40 C155.33,286.57 156.83,284.40 158.00,282.40 C159.17,280.40 160.07,277.90 161.00,276.40 C161.93,274.90 162.77,273.57 163.60,273.40 C164.43,273.23 165.47,274.59 166.00,275.40 C166.53,276.21 166.34,277.02 166.75,278.28 C167.17,279.54 167.92,281.69 168.51,282.96 C169.09,284.23 169.58,285.24 170.26,285.89 C170.95,286.53 171.82,286.76 172.60,286.82 C173.38,286.88 174.16,286.59 174.94,286.24 C175.72,285.89 176.50,285.65 177.28,284.72 C178.06,283.78 178.94,282.28 179.62,280.62 C180.30,278.97 180.89,276.92 181.37,274.77 C181.86,272.63 182.22,269.82 182.54,267.76 C182.86,265.69 183.07,264.46 183.30,262.40 C183.53,260.34 183.73,257.90 183.90,255.40 C184.07,252.90 184.18,250.07 184.30,247.40 C184.42,244.73 184.50,242.40 184.60,239.40 C184.70,236.40 184.80,232.23 184.90,229.40 C185.00,226.57 185.11,223.80 185.20,222.40 C185.29,221.00 185.37,221.00 185.45,221.00 C185.53,221.00 185.62,220.67 185.70,222.40 C185.78,224.13 185.85,227.57 185.95,231.40 C186.05,235.23 186.16,241.57 186.30,245.40 C186.44,249.23 186.60,251.98 186.80,254.40 C187.00,256.82 187.23,258.53 187.50,259.90 C187.77,261.27 188.06,261.88 188.40,262.60 C188.74,263.32 189.08,263.49 189.56,264.25 C190.05,265.01 190.63,266.39 191.32,267.17 C192.00,267.95 192.78,268.50 193.65,268.93 C194.53,269.36 195.60,269.55 196.58,269.75 C197.55,269.94 198.73,269.99 199.50,270.10 C200.27,270.21 200.52,269.52 201.20,270.40 C201.88,271.28 202.70,273.40 203.60,275.40 C204.50,277.40 205.60,280.07 206.60,282.40 C207.60,284.73 208.60,287.40 209.60,289.40 C210.60,291.40 211.60,293.07 212.60,294.40 C213.60,295.73 214.43,296.57 215.60,297.40 C216.77,298.23 217.97,298.90 219.60,299.40 C221.23,299.90 222.83,300.10 225.40,300.40 C227.97,300.70 228.40,300.97 235.00,301.20 C241.60,301.43 246.17,301.67 265.00,301.80 C283.83,301.93 334.17,301.97 348.00,302.00" stroke="#35a38f" stroke-width="1.10"/>
<line x1="185.30" y1="217.50" x2="185.30" y2="306.20" stroke="#33363f" stroke-width="1.0" stroke-dasharray="1.65,1.35"/>
</g>
<rect x="21.10" y="217.50" width="327.20" height="88.70" fill="none" stroke="#000" stroke-opacity="0.5" stroke-width="0.9"/>
<line x1="39.60" y1="306.20" x2="39.60" y2="307.90" stroke="#000" stroke-opacity="0.75" stroke-width="0.6"/>
<text x="39.60" y="311.90" font-size="5.75" text-anchor="middle">−4</text>
<line x1="76.00" y1="306.20" x2="76.00" y2="307.90" stroke="#000" stroke-opacity="0.75" stroke-width="0.6"/>
<text x="76.00" y="311.90" font-size="5.75" text-anchor="middle">−3</text>
<line x1="112.40" y1="306.20" x2="112.40" y2="307.90" stroke="#000" stroke-opacity="0.75" stroke-width="0.6"/>
<text x="112.40" y="311.90" font-size="5.75" text-anchor="middle">−2</text>
<line x1="148.80" y1="306.20" x2="148.80" y2="307.90" stroke="#000" stroke-opacity="0.75" stroke-width="0.6"/>
<text x="148.80" y="311.90" font-size="5.75" text-anchor="middle">−1</text>
<line x1="185.20" y1="306.20" x2="185.20" y2="307.90" stroke="#000" stroke-opacity="0.75" stroke-width="0.6"/>
<text x="185.20" y="311.90" font-size="5.75" text-anchor="middle">0</text>
<line x1="221.60" y1="306.20" x2="221.60" y2="307.90" stroke="#000" stroke-opacity="0.75" stroke-width="0.6"/>
<text x="221.60" y="311.90" font-size="5.75" text-anchor="middle">1</text>
<line x1="258.00" y1="306.20" x2="258.00" y2="307.90" stroke="#000" stroke-opacity="0.75" stroke-width="0.6"/>
<text x="258.00" y="311.90" font-size="5.75" text-anchor="middle">2</text>
<line x1="294.40" y1="306.20" x2="294.40" y2="307.90" stroke="#000" stroke-opacity="0.75" stroke-width="0.6"/>
<text x="294.40" y="311.90" font-size="5.75" text-anchor="middle">3</text>
<line x1="330.80" y1="306.20" x2="330.80" y2="307.90" stroke="#000" stroke-opacity="0.75" stroke-width="0.6"/>
<text x="330.80" y="311.90" font-size="5.75" text-anchor="middle">4</text>
<line x1="19.40" y1="301.80" x2="21.10" y2="301.80" stroke="#000" stroke-opacity="0.75" stroke-width="0.6"/>
<text x="17.80" y="304.40" font-size="5.75" text-anchor="end">0.0</text>
<line x1="19.40" y1="278.01" x2="21.10" y2="278.01" stroke="#000" stroke-opacity="0.75" stroke-width="0.6"/>
<text x="17.80" y="280.62" font-size="5.75" text-anchor="end">0.5</text>
<line x1="19.40" y1="254.23" x2="21.10" y2="254.23" stroke="#000" stroke-opacity="0.75" stroke-width="0.6"/>
<text x="17.80" y="256.83" font-size="5.75" text-anchor="end">1.0</text>
<line x1="19.40" y1="230.44" x2="21.10" y2="230.44" stroke="#000" stroke-opacity="0.75" stroke-width="0.6"/>
<text x="17.80" y="233.04" font-size="5.75" text-anchor="end">1.5</text>
<text x="185.60" y="318.95" font-size="6.4" text-anchor="middle">RA offset (arcsec)</text>
<text transform="translate(5.25,263.05) rotate(-90)" font-size="5.6" text-anchor="middle">PDF</text>
<rect x="274.90" y="220.20" width="70.50" height="28.30" rx="1" fill="#fff" fill-opacity="0.8" stroke="#d4d4d4" stroke-width="0.5"/>
<line x1="277.57" y1="225.30" x2="290.50" y2="225.30" stroke="#ba6421" stroke-width="1.1"/>
<text x="295.68" y="227.60" font-size="6.28">CRAFT-nominal</text>
<line x1="277.57" y1="233.95" x2="290.50" y2="233.95" stroke="#e5c47f" stroke-width="1.1"/>
<text x="295.68" y="236.25" font-size="6.28">ASKAP-nominal</text>
<line x1="277.57" y1="242.60" x2="290.50" y2="242.60" stroke="#35a38f" stroke-width="1.1"/>
<text x="295.68" y="244.90" font-size="6.28">CRAFT-ASKAP</text>
</g>
<g>
<clipPath id="c3"><rect x="21.10" y="324.25" width="327.20" height="88.25"/></clipPath>
<g clip-path="url(#c3)" fill="none" stroke-linejoin="round" stroke-linecap="butt">
<line x1="167.60" y1="324.25" x2="167.60" y2="412.50" stroke="#ceb1db" stroke-width="0.75"/>
<line x1="191.30" y1="324.25" x2="191.30" y2="412.50" stroke="#94cca8" stroke-width="0.75"/>
<path d="M20.00,408.70 C23.47,408.68 37.20,408.60 40.80,408.57 C44.40,408.53 41.33,408.53 41.60,408.50 C41.87,408.47 42.13,408.44 42.40,408.39 C42.67,408.35 42.93,408.30 43.20,408.23 C43.47,408.16 43.73,408.08 44.00,407.98 C44.27,407.88 44.53,407.77 44.80,407.63 C45.07,407.50 45.33,407.34 45.60,407.17 C45.87,406.99 46.13,406.79 46.40,406.56 C46.67,406.34 46.93,406.10 47.20,405.84 C47.47,405.57 47.73,405.29 48.00,405.00 C48.27,404.71 48.53,404.40 48.80,404.10 C49.07,403.80 49.33,403.49 49.60,403.20 C49.87,402.92 50.13,402.63 50.40,402.39 C50.67,402.14 50.93,401.91 51.20,401.73 C51.47,401.55 51.73,401.39 52.00,401.30 C52.27,401.20 52.53,401.15 52.80,401.15 C53.07,401.15 53.33,401.20 53.60,401.30 C53.87,401.39 54.13,401.55 54.40,401.73 C54.67,401.91 54.93,402.14 55.20,402.39 C55.47,402.63 55.73,402.92 56.00,403.20 C56.27,403.49 56.53,403.80 56.80,404.10 C57.07,404.40 57.33,404.71 57.60,405.00 C57.87,405.29 58.13,405.57 58.40,405.84 C58.67,406.10 58.93,406.34 59.20,406.56 C59.47,406.79 59.73,406.99 60.00,407.17 C60.27,407.34 60.53,407.50 60.80,407.63 C61.07,407.77 61.33,407.88 61.60,407.98 C61.87,408.08 62.13,408.16 62.40,408.23 C62.67,408.30 62.93,408.35 63.20,408.39 C63.47,408.44 63.73,408.47 64.00,408.50 C64.27,408.53 64.30,408.55 64.80,408.57 C65.30,408.58 66.13,408.63 67.00,408.60 C67.87,408.57 68.83,408.60 70.00,408.40 C71.17,408.20 72.67,407.83 74.00,407.40 C75.33,406.97 76.67,406.23 78.00,405.80 C79.33,405.37 80.67,404.97 82.00,404.80 C83.33,404.63 84.67,404.60 86.00,404.80 C87.33,405.00 88.67,405.73 90.00,406.00 C91.33,406.27 93.33,406.33 94.00,406.40 C94.67,406.47 93.33,406.47 94.00,406.40 C94.67,406.33 96.67,406.27 98.00,406.00 C99.33,405.73 100.93,405.00 102.00,404.80 C103.07,404.60 103.57,404.53 104.40,404.80 C105.23,405.07 106.07,405.90 107.00,406.40 C107.93,406.90 108.83,407.63 110.00,407.80 C111.17,407.97 112.67,407.63 114.00,407.40 C115.33,407.17 116.67,406.63 118.00,406.40 C119.33,406.17 120.67,406.00 122.00,406.00 C123.33,406.00 124.67,406.40 126.00,406.40 C127.33,406.40 128.67,406.10 130.00,406.00 C131.33,405.90 132.93,406.23 134.00,405.80 C135.07,405.37 135.73,404.97 136.40,403.40 C137.07,401.83 137.50,398.63 138.00,396.40 C138.50,394.17 139.00,391.27 139.40,390.00 C139.80,388.73 140.03,388.40 140.40,388.80 C140.77,389.20 141.17,390.30 141.60,392.40 C142.03,394.50 142.53,399.07 143.00,401.40 C143.47,403.73 143.90,405.40 144.40,406.40 C144.90,407.40 145.47,407.90 146.00,407.40 C146.53,406.90 147.10,405.23 147.60,403.40 C148.10,401.57 148.60,397.83 149.00,396.40 C149.40,394.97 149.63,394.47 150.00,394.80 C150.37,395.13 150.80,396.97 151.20,398.40 C151.60,399.83 152.10,402.57 152.40,403.40 C152.70,404.23 152.57,403.57 153.00,403.40 C153.43,403.23 154.33,402.73 155.00,402.40 C155.67,402.07 156.33,402.07 157.00,401.40 C157.67,400.73 158.33,400.57 159.00,398.40 C159.67,396.23 160.43,390.90 161.00,388.40 C161.57,385.90 161.90,384.40 162.40,383.40 C162.90,382.40 163.47,381.73 164.00,382.40 C164.53,383.07 165.13,385.67 165.60,387.40 C166.07,389.13 166.43,391.37 166.80,392.80 C167.17,394.23 167.43,396.40 167.80,396.00 C168.17,395.60 168.47,392.83 169.00,390.40 C169.53,387.97 170.33,383.40 171.00,381.40 C171.67,379.40 172.50,379.07 173.00,378.40 C173.50,377.73 173.57,376.73 174.00,377.40 C174.43,378.07 175.10,380.90 175.60,382.40 C176.10,383.90 176.50,386.57 177.00,386.40 C177.50,386.23 178.10,382.57 178.60,381.40 C179.10,380.23 179.57,378.90 180.00,379.40 C180.43,379.90 180.87,382.40 181.20,384.40 C181.53,386.40 181.77,389.27 182.00,391.40 C182.23,393.53 182.37,397.37 182.60,397.20 C182.83,397.03 183.13,394.87 183.40,390.40 C183.67,385.93 183.93,376.73 184.20,370.40 C184.47,364.07 184.78,356.07 185.00,352.40 C185.22,348.73 185.33,348.40 185.50,348.40 C185.67,348.40 185.82,350.07 186.00,352.40 C186.18,354.73 186.40,358.07 186.60,362.40 C186.80,366.73 186.97,373.73 187.20,378.40 C187.43,383.07 187.70,388.23 188.00,390.40 C188.30,392.57 188.57,391.73 189.00,391.40 C189.43,391.07 190.10,388.57 190.60,388.40 C191.10,388.23 191.50,390.40 192.00,390.40 C192.50,390.40 193.07,389.40 193.60,388.40 C194.13,387.40 194.70,384.40 195.20,384.40 C195.70,384.40 196.13,386.57 196.60,388.40 C197.07,390.23 197.57,393.13 198.00,395.40 C198.43,397.67 198.80,400.43 199.20,402.00 C199.60,403.57 199.93,404.63 200.40,404.80 C200.87,404.97 201.37,403.37 202.00,403.00 C202.63,402.63 203.50,402.33 204.20,402.60 C204.90,402.87 205.63,404.60 206.20,404.60 C206.77,404.60 207.07,402.37 207.60,402.60 C208.13,402.83 208.83,405.07 209.40,406.00 C209.97,406.93 210.47,408.47 211.00,408.20 C211.53,407.93 212.10,405.57 212.60,404.40 C213.10,403.23 213.53,401.97 214.00,401.20 C214.47,400.43 214.90,399.33 215.40,399.80 C215.90,400.27 216.50,402.73 217.00,404.00 C217.50,405.27 217.63,406.67 218.40,407.40 C219.17,408.13 220.67,408.27 221.60,408.40 C222.53,408.53 223.33,408.37 224.00,408.20 C224.67,408.03 225.07,407.80 225.60,407.40 C226.13,407.00 226.63,406.23 227.20,405.80 C227.77,405.37 228.40,404.80 229.00,404.80 C229.60,404.80 230.23,405.35 230.80,405.80 C231.37,406.25 231.87,407.07 232.40,407.50 C232.93,407.93 233.07,408.22 234.00,408.40 C234.93,408.58 235.33,408.57 238.00,408.60 C240.67,408.63 247.33,408.73 250.00,408.60 C252.67,408.47 252.83,408.10 254.00,407.80 C255.17,407.50 256.00,407.03 257.00,406.80 C258.00,406.57 259.00,406.33 260.00,406.40 C261.00,406.47 261.83,406.87 263.00,407.20 C264.17,407.53 264.17,408.13 267.00,408.40 C269.83,408.67 277.83,408.73 280.00,408.80" stroke="#ba6421" stroke-width="1.12"/>
<path d="M20.00,408.70 C27.00,408.68 53.67,408.72 62.00,408.60 C70.33,408.48 67.67,408.37 70.00,408.00 C72.33,407.63 74.00,406.80 76.00,406.40 C78.00,406.00 80.00,405.67 82.00,405.60 C84.00,405.53 86.00,405.93 88.00,406.00 C90.00,406.07 92.67,405.93 94.00,406.00 C95.33,406.07 94.67,406.50 96.00,406.40 C97.33,406.30 100.33,405.80 102.00,405.40 C103.67,405.00 104.67,404.43 106.00,404.00 C107.33,403.57 108.83,403.00 110.00,402.80 C111.17,402.60 112.00,402.60 113.00,402.80 C114.00,403.00 114.83,403.47 116.00,404.00 C117.17,404.53 118.33,405.53 120.00,406.00 C121.67,406.47 123.67,406.73 126.00,406.80 C128.33,406.87 131.33,406.53 134.00,406.40 C136.67,406.27 139.67,406.17 142.00,406.00 C144.33,405.83 146.00,405.50 148.00,405.40 C150.00,405.30 152.50,406.07 154.00,405.40 C155.50,404.73 156.00,403.57 157.00,401.40 C158.00,399.23 159.17,395.57 160.00,392.40 C160.83,389.23 161.43,384.40 162.00,382.40 C162.57,380.40 162.90,380.07 163.40,380.40 C163.90,380.73 164.40,382.57 165.00,384.40 C165.60,386.23 166.33,390.40 167.00,391.40 C167.67,392.40 168.33,391.57 169.00,390.40 C169.67,389.23 170.33,386.23 171.00,384.40 C171.67,382.57 172.33,379.90 173.00,379.40 C173.67,378.90 174.33,380.23 175.00,381.40 C175.67,382.57 176.33,384.57 177.00,386.40 C177.67,388.23 178.33,390.90 179.00,392.40 C179.67,393.90 180.43,395.40 181.00,395.40 C181.57,395.40 181.97,395.23 182.40,392.40 C182.83,389.57 183.23,384.07 183.60,378.40 C183.97,372.73 184.33,362.90 184.60,358.40 C184.87,353.90 185.03,352.80 185.20,351.40 C185.37,350.00 185.47,350.00 185.60,350.00 C185.73,350.00 185.77,350.00 186.00,351.40 C186.23,352.80 186.67,353.90 187.00,358.40 C187.33,362.90 187.50,373.73 188.00,378.40 C188.50,383.07 189.17,384.07 190.00,386.40 C190.83,388.73 192.00,390.57 193.00,392.40 C194.00,394.23 195.00,396.40 196.00,397.40 C197.00,398.40 198.17,398.73 199.00,398.40 C199.83,398.07 200.43,396.07 201.00,395.40 C201.57,394.73 201.90,393.90 202.40,394.40 C202.90,394.90 203.23,396.90 204.00,398.40 C204.77,399.90 206.00,402.23 207.00,403.40 C208.00,404.57 208.83,405.07 210.00,405.40 C211.17,405.73 213.00,405.13 214.00,405.40 C215.00,405.67 214.67,406.57 216.00,407.00 C217.33,407.43 219.67,407.93 222.00,408.00 C224.33,408.07 227.67,407.43 230.00,407.40 C232.33,407.37 234.00,407.60 236.00,407.80 C238.00,408.00 234.67,408.43 242.00,408.60 C249.33,408.77 273.67,408.77 280.00,408.80" stroke="#e5c47f" stroke-width="0.92"/>
<path d="M20.00,408.70 C35.00,408.68 93.00,408.75 110.00,408.60 C127.00,408.45 118.00,408.07 122.00,407.80 C126.00,407.53 130.00,407.23 134.00,407.00 C138.00,406.77 143.33,406.52 146.00,406.40 C148.67,406.28 148.75,406.40 150.00,406.30 C151.25,406.20 152.43,406.18 153.50,405.80 C154.57,405.42 155.52,404.88 156.40,404.00 C157.28,403.12 158.12,401.80 158.80,400.50 C159.48,399.20 159.92,397.58 160.50,396.20 C161.08,394.82 161.72,393.27 162.30,392.20 C162.88,391.13 163.32,390.23 164.00,389.80 C164.68,389.37 165.62,389.57 166.40,389.60 C167.18,389.63 168.02,390.27 168.70,390.00 C169.38,389.73 169.87,389.10 170.50,388.00 C171.13,386.90 171.82,385.02 172.50,383.40 C173.18,381.78 173.93,380.13 174.60,378.30 C175.27,376.47 175.88,374.35 176.50,372.40 C177.12,370.45 177.83,368.05 178.30,366.60 C178.77,365.15 178.74,365.33 179.30,363.67 C179.85,362.02 180.97,359.19 181.64,356.66 C182.30,354.12 182.83,351.20 183.27,348.47 C183.72,345.74 184.00,343.01 184.33,340.28 C184.66,337.55 185.03,334.08 185.26,332.10 C185.50,330.11 185.56,328.35 185.73,328.35 C185.91,328.35 186.08,329.52 186.32,332.10 C186.55,334.67 186.84,339.89 187.13,343.79 C187.43,347.69 187.76,351.59 188.07,355.49 C188.38,359.39 188.85,364.70 189.01,367.18 C189.16,369.67 188.67,367.86 189.00,370.40 C189.33,372.94 190.33,379.23 191.00,382.40 C191.67,385.57 192.23,387.27 193.00,389.40 C193.77,391.53 194.60,393.47 195.60,395.20 C196.60,396.93 197.77,398.57 199.00,399.80 C200.23,401.03 201.50,401.70 203.00,402.60 C204.50,403.50 206.17,404.48 208.00,405.20 C209.83,405.92 212.00,406.45 214.00,406.90 C216.00,407.35 217.00,407.65 220.00,407.90 C223.00,408.15 225.33,408.27 232.00,408.40 C238.67,408.52 240.67,408.60 260.00,408.65 C279.33,408.70 333.33,408.69 348.00,408.70" stroke="#35a38f" stroke-width="1.10"/>
<line x1="181.80" y1="324.25" x2="181.80" y2="412.50" stroke="#33363f" stroke-width="1.0" stroke-dasharray="1.65,1.35"/>
</g>
<rect x="21.10" y="324.25" width="327.20" height="88.25" fill="none" stroke="#000" stroke-opacity="0.5" stroke-width="0.9"/>
<line x1="39.60" y1="412.50" x2="39.60" y2="414.20" stroke="#000" stroke-opacity="0.75" stroke-width="0.6"/>
<text x="39.60" y="418.20" font-size="5.75" text-anchor="middle">−4</text>
<line x1="76.00" y1="412.50" x2="76.00" y2="414.20" stroke="#000" stroke-opacity="0.75" stroke-width="0.6"/>
<text x="76.00" y="418.20" font-size="5.75" text-anchor="middle">−3</text>
<line x1="112.40" y1="412.50" x2="112.40" y2="414.20" stroke="#000" stroke-opacity="0.75" stroke-width="0.6"/>
<text x="112.40" y="418.20" font-size="5.75" text-anchor="middle">−2</text>
<line x1="148.80" y1="412.50" x2="148.80" y2="414.20" stroke="#000" stroke-opacity="0.75" stroke-width="0.6"/>
<text x="148.80" y="418.20" font-size="5.75" text-anchor="middle">−1</text>
<line x1="185.20" y1="412.50" x2="185.20" y2="414.20" stroke="#000" stroke-opacity="0.75" stroke-width="0.6"/>
<text x="185.20" y="418.20" font-size="5.75" text-anchor="middle">0</text>
<line x1="221.60" y1="412.50" x2="221.60" y2="414.20" stroke="#000" stroke-opacity="0.75" stroke-width="0.6"/>
<text x="221.60" y="418.20" font-size="5.75" text-anchor="middle">1</text>
<line x1="258.00" y1="412.50" x2="258.00" y2="414.20" stroke="#000" stroke-opacity="0.75" stroke-width="0.6"/>
<text x="258.00" y="418.20" font-size="5.75" text-anchor="middle">2</text>
<line x1="294.40" y1="412.50" x2="294.40" y2="414.20" stroke="#000" stroke-opacity="0.75" stroke-width="0.6"/>
<text x="294.40" y="418.20" font-size="5.75" text-anchor="middle">3</text>
<line x1="330.80" y1="412.50" x2="330.80" y2="414.20" stroke="#000" stroke-opacity="0.75" stroke-width="0.6"/>
<text x="330.80" y="418.20" font-size="5.75" text-anchor="middle">4</text>
<line x1="19.40" y1="408.70" x2="21.10" y2="408.70" stroke="#000" stroke-opacity="0.75" stroke-width="0.6"/>
<text x="17.80" y="411.30" font-size="5.75" text-anchor="end">0.0</text>
<line x1="19.40" y1="389.05" x2="21.10" y2="389.05" stroke="#000" stroke-opacity="0.75" stroke-width="0.6"/>
<text x="17.80" y="391.65" font-size="5.75" text-anchor="end">0.5</text>
<line x1="19.40" y1="369.40" x2="21.10" y2="369.40" stroke="#000" stroke-opacity="0.75" stroke-width="0.6"/>
<text x="17.80" y="372.00" font-size="5.75" text-anchor="end">1.0</text>
<line x1="19.40" y1="349.75" x2="21.10" y2="349.75" stroke="#000" stroke-opacity="0.75" stroke-width="0.6"/>
<text x="17.80" y="352.35" font-size="5.75" text-anchor="end">1.5</text>
<line x1="19.40" y1="330.10" x2="21.10" y2="330.10" stroke="#000" stroke-opacity="0.75" stroke-width="0.6"/>
<text x="17.80" y="332.70" font-size="5.75" text-anchor="end">2.0</text>
<text x="185.60" y="425.25" font-size="6.4" text-anchor="middle">Dec offset (arcsec)</text>
<text transform="translate(5.25,369.57) rotate(-90)" font-size="5.6" text-anchor="middle">PDF</text>
<rect x="274.90" y="326.95" width="70.50" height="28.30" rx="1" fill="#fff" fill-opacity="0.8" stroke="#d4d4d4" stroke-width="0.5"/>
<line x1="277.57" y1="332.05" x2="290.50" y2="332.05" stroke="#ba6421" stroke-width="1.1"/>
<text x="295.68" y="334.35" font-size="6.28">CRAFT-nominal</text>
<line x1="277.57" y1="340.70" x2="290.50" y2="340.70" stroke="#e5c47f" stroke-width="1.1"/>
<text x="295.68" y="343.00" font-size="6.28">ASKAP-nominal</text>
<line x1="277.57" y1="349.35" x2="290.50" y2="349.35" stroke="#35a38f" stroke-width="1.1"/>
<text x="295.68" y="351.65" font-size="6.28">CRAFT-ASKAP</text>
</g>
</svg>
</body></html>
